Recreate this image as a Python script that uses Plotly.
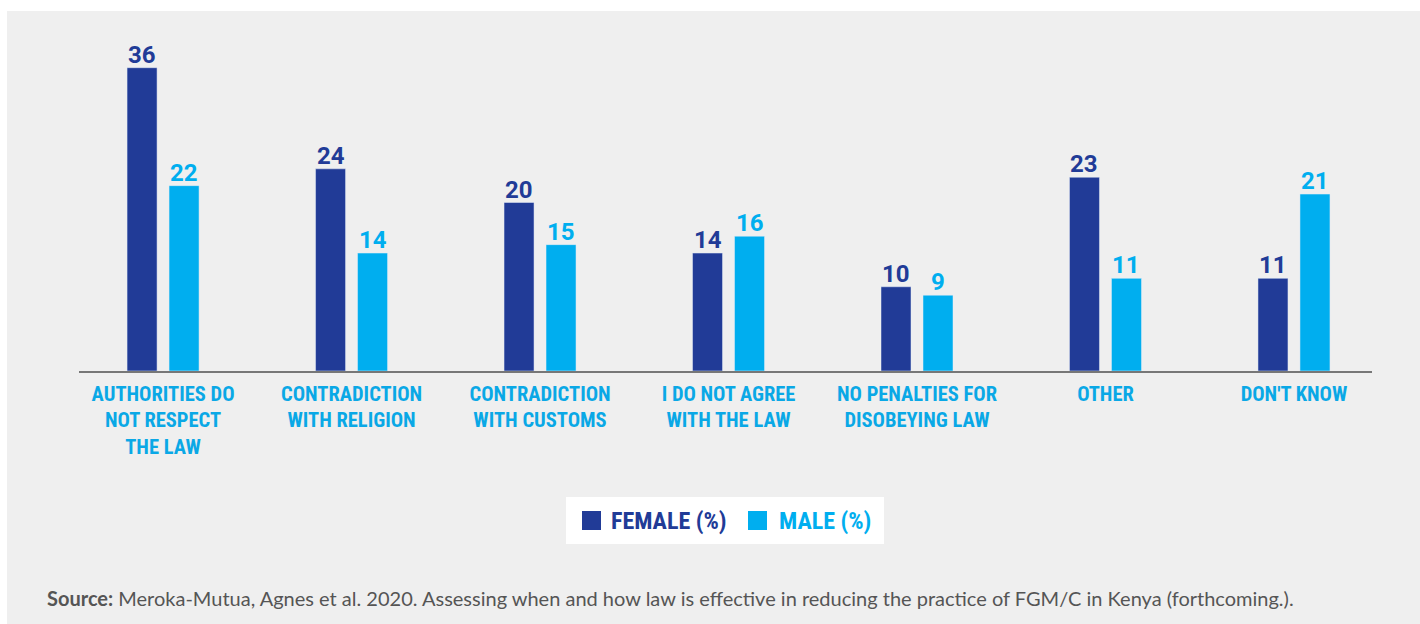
import plotly.graph_objects as go

categories = [
    "AUTHORITIES DO<br>NOT RESPECT<br>THE LAW",
    "CONTRADICTION<br>WITH RELIGION",
    "CONTRADICTION<br>WITH CUSTOMS",
    "I DO NOT AGREE<br>WITH THE LAW",
    "NO PENALTIES FOR<br>DISOBEYING LAW",
    "OTHER",
    "DON'T KNOW",
]
female = [36, 24, 20, 14, 10, 23, 11]
male = [22, 14, 15, 16, 9, 11, 21]
series_names = ["FEMALE (%)", "MALE (%)"]
source_text = ("<b>Source:</b> Meroka-Mutua, Agnes et al. 2020. Assessing when and how law is "
               "effective in reducing the practice of FGM/C in Kenya (forthcoming.).")

W, H = 1420, 624
ML, MR, MT, MB = 79, 48, 34, 253
PW = W - ML - MR
PH = H - MT - MB

def px(x):
    return (x - ML) / PW

def py(y):
    return (H - MB - y) / PH

DARK = "#213b97"
LIGHT = "#00aeef"
NUM_FONT = "Roboto"
LAB_FONT = "Liberation Sans Narrow, Roboto Condensed, Roboto"

unit = PW / 6.86
bw = 30 / unit

fig = go.Figure()
fig.add_trace(go.Bar(
    x=categories, y=female, name=series_names[0], marker_color=DARK,
    width=bw, offset=-36 / unit, showlegend=False,
))
fig.add_trace(go.Bar(
    x=categories, y=male, name=series_names[1], marker_color=LIGHT,
    width=bw, offset=6 / unit, showlegend=False,
))

annotations = []
for vals, color, xs in ((female, DARK, -21), (male, LIGHT, 21)):
    for c, v in zip(categories, vals):
        annotations.append(dict(
            x=c, y=v, xref="x", yref="y", text="<b>%d</b>" % v, showarrow=False,
            xanchor="center", yanchor="bottom", xshift=xs, yshift=-3,
            font=dict(family=NUM_FONT, size=24, color=color),
        ))

shapes = [
    dict(type="rect", xref="paper", yref="paper", layer="below",
         x0=px(7), x1=px(1420), y0=py(624), y1=py(11),
         fillcolor="#efefef", line=dict(width=0)),
    dict(type="rect", xref="paper", yref="paper",
         x0=px(566), x1=px(884), y0=py(544), y1=py(497),
         fillcolor="white", line=dict(width=0)),
    dict(type="rect", xref="paper", yref="paper",
         x0=px(582), x1=px(601), y0=py(530), y1=py(511),
         fillcolor=DARK, line=dict(width=0)),
    dict(type="rect", xref="paper", yref="paper",
         x0=px(748), x1=px(767), y0=py(530), y1=py(511),
         fillcolor=LIGHT, line=dict(width=0)),
]

annotations += [
    dict(text="<b>" + series_names[0] + "</b>", xref="paper", yref="paper",
         x=px(609), y=py(521), xanchor="left", yanchor="middle", showarrow=False,
         font=dict(family=LAB_FONT, size=24, color=DARK)),
    dict(text="<b>" + series_names[1] + "</b>", xref="paper", yref="paper",
         x=px(777), y=py(521), xanchor="left", yanchor="middle", showarrow=False,
         font=dict(family=LAB_FONT, size=24, color=LIGHT)),
    dict(text=source_text, xref="paper", yref="paper",
         x=px(45), y=py(598), xanchor="left", yanchor="middle", showarrow=False,
         font=dict(family="Source Sans Pro, Lato", size=20, color="#555555")),
]

fig.update_layout(
    width=W, height=H,
    margin=dict(l=ML, r=MR, t=MT, b=MB, pad=0),
    paper_bgcolor="white", plot_bgcolor="rgba(0,0,0,0)",
    barmode="overlay",
    shapes=shapes, annotations=annotations,
    showlegend=False,
)
fig.update_xaxes(
    range=[-0.446, 6.414], showgrid=False, zeroline=False,
    showline=True, linecolor="#777777", linewidth=2,
    ticks="", ticklabelstandoff=3,
    tickfont=dict(family=LAB_FONT, size=20.5, color="#0aa8e6", weight="bold"),
)
fig.update_yaxes(range=[0, 40], visible=False)

fig.write_html("out.html")
